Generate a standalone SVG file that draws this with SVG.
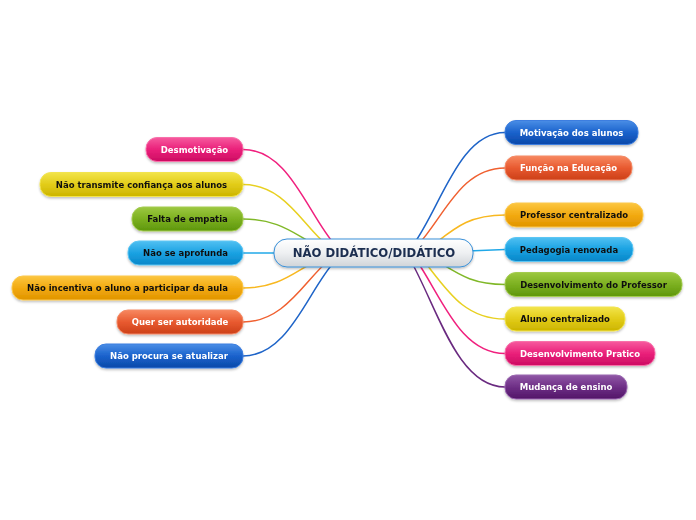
<svg xmlns="http://www.w3.org/2000/svg" width="696" height="520" viewBox="0 0 696 520">
<defs>
<style>
.t{font-family:"DejaVu Sans","Verdana",sans-serif;font-weight:bold;font-size:8.5px;text-anchor:middle}
.w{fill:#ffffff}
.k{fill:#111111}
.c path{fill:none;stroke-width:1.5}
.n rect{stroke-width:1}
</style>
<filter id="sh" x="-10%" y="-30%" width="120%" height="170%"><feDropShadow dx="0" dy="1.5" stdDeviation="1" flood-color="#000" flood-opacity="0.25"/></filter>
<linearGradient id="gBlue" x1="0" y1="0" x2="0" y2="1"><stop offset="0" stop-color="#4a8ee6"/><stop offset="0.5" stop-color="#1a62cc"/><stop offset="1" stop-color="#0a48a8"/></linearGradient>
<linearGradient id="gRed" x1="0" y1="0" x2="0" y2="1"><stop offset="0" stop-color="#f78860"/><stop offset="0.5" stop-color="#e85a30"/><stop offset="1" stop-color="#cc4018"/></linearGradient>
<linearGradient id="gOra" x1="0" y1="0" x2="0" y2="1"><stop offset="0" stop-color="#fcc640"/><stop offset="0.5" stop-color="#f2aa10"/><stop offset="1" stop-color="#e09400"/></linearGradient>
<linearGradient id="gCya" x1="0" y1="0" x2="0" y2="1"><stop offset="0" stop-color="#50c0f2"/><stop offset="0.5" stop-color="#1aa2e2"/><stop offset="1" stop-color="#0886c8"/></linearGradient>
<linearGradient id="gGrn" x1="0" y1="0" x2="0" y2="1"><stop offset="0" stop-color="#9cc840"/><stop offset="0.5" stop-color="#7cb020"/><stop offset="1" stop-color="#5e960c"/></linearGradient>
<linearGradient id="gYel" x1="0" y1="0" x2="0" y2="1"><stop offset="0" stop-color="#f2e44a"/><stop offset="0.5" stop-color="#e2cc18"/><stop offset="1" stop-color="#ccb400"/></linearGradient>
<linearGradient id="gPnk" x1="0" y1="0" x2="0" y2="1"><stop offset="0" stop-color="#f65a9e"/><stop offset="0.5" stop-color="#ea207a"/><stop offset="1" stop-color="#cc0c62"/></linearGradient>
<linearGradient id="gPur" x1="0" y1="0" x2="0" y2="1"><stop offset="0" stop-color="#9058a6"/><stop offset="0.5" stop-color="#6e2e86"/><stop offset="1" stop-color="#521668"/></linearGradient>
<linearGradient id="gCen" x1="0" y1="0" x2="0" y2="1"><stop offset="0" stop-color="#ffffff"/><stop offset="0.5" stop-color="#eef0f2"/><stop offset="1" stop-color="#d0d4d8"/></linearGradient>
</defs>
<rect width="696" height="520" fill="#ffffff"/>

<g id="connectors" class="c">
<path d="M243,149.5 C289,149.5 307,213 335,245" stroke="#f0207e"/>
<path d="M243,184.5 C285,184.5 303,226 327,245" stroke="#e8d020"/>
<path d="M243,219 C279,219 294,234 316,245" stroke="#80b828"/>
<path d="M243,253 L280,253" stroke="#20a8e8"/>
<path d="M243,288 C279,288 294,272 316,261" stroke="#f8b820"/>
<path d="M243,322 C285,322 305,280 328,261" stroke="#f06030"/>
<path d="M243,356 C289,356 308,290 335,261" stroke="#1e64c8"/>
<path d="M505,132.5 C459,132.5 441,207 413,245" stroke="#1e64c8"/>
<path d="M505,168 C461,168 445,215 418,245" stroke="#f06030"/>
<path d="M505,215 C469,215 455,228 433,245" stroke="#f8b820"/>
<path d="M505,249.5 L468,251" stroke="#20a8e8"/>
<path d="M505,284.5 C471,284.5 457,273 437,261" stroke="#80b828"/>
<path d="M505,319 C464,319 447,290 424,261" stroke="#e8d020"/>
<path d="M505,353.5 C461,353.5 443,300 417,261" stroke="#f0207e"/>
<path d="M505,387 C458,387 438,310 411,261" stroke="#6a2a80"/>
</g>

<g id="center" class="n" filter="url(#sh)">
<rect x="274" y="239" width="199" height="28" rx="13" fill="url(#gCen)" stroke="#3a90d8" stroke-width="1.3"/>
<text x="374" y="257.3" style="font-family:'DejaVu Sans',sans-serif;font-weight:bold;font-size:11.7px;text-anchor:middle" fill="#1a2d50">NÃO DIDÁTICO/DIDÁTICO</text>
</g>

<g id="n-motivacao" class="n" filter="url(#sh)"><rect x="505" y="120.5" width="133" height="24" rx="11" fill="url(#gBlue)" stroke="#3c7ee0"/><text class="t w" x="571.5" y="135.5">Motivação dos alunos</text></g>
<g id="n-funcao" class="n" filter="url(#sh)"><rect x="505" y="156" width="127" height="24" rx="11" fill="url(#gRed)" stroke="#f48a66"/><text class="t w" x="568.5" y="171">Função na Educação</text></g>
<g id="n-professor" class="n" filter="url(#sh)"><rect x="505" y="203" width="138" height="24" rx="11" fill="url(#gOra)" stroke="#fcc84a"/><text class="t k" x="574" y="218">Professor centralizado</text></g>
<g id="n-pedagogia" class="n" filter="url(#sh)"><rect x="505" y="237.5" width="128" height="24" rx="11" fill="url(#gCya)" stroke="#5cc6f4"/><text class="t k" x="569" y="252.5">Pedagogia renovada</text></g>
<g id="n-desprof" class="n" filter="url(#sh)"><rect x="505" y="272.5" width="177" height="24" rx="11" fill="url(#gGrn)" stroke="#a4cc50"/><text class="t k" x="593.5" y="287.5">Desenvolvimento do Professor</text></g>
<g id="n-aluno" class="n" filter="url(#sh)"><rect x="505" y="307" width="120" height="24" rx="11" fill="url(#gYel)" stroke="#f2e450"/><text class="t k" x="565" y="322">Aluno centralizado</text></g>
<g id="n-despratico" class="n" filter="url(#sh)"><rect x="505" y="341.5" width="150" height="24" rx="11" fill="url(#gPnk)" stroke="#f870aa"/><text class="t w" x="580" y="356.5">Desenvolvimento Pratico</text></g>
<g id="n-mudanca" class="n" filter="url(#sh)"><rect x="505" y="375" width="122" height="24" rx="11" fill="url(#gPur)" stroke="#9a66b0"/><text class="t w" x="566" y="390">Mudança de ensino</text></g>

<g id="n-desmotivacao" class="n" filter="url(#sh)"><rect x="146" y="137.5" width="97" height="24" rx="11" fill="url(#gPnk)" stroke="#f870aa"/><text class="t w" x="194.5" y="152.5">Desmotivação</text></g>
<g id="n-confianca" class="n" filter="url(#sh)"><rect x="40" y="172.5" width="203" height="24" rx="11" fill="url(#gYel)" stroke="#f2e450"/><text class="t k" x="141.5" y="187.5">Não transmite confiança aos alunos</text></g>
<g id="n-empatia" class="n" filter="url(#sh)"><rect x="132" y="207" width="111" height="24" rx="11" fill="url(#gGrn)" stroke="#a4cc50"/><text class="t k" x="187.5" y="222">Falta de empatia</text></g>
<g id="n-aprofunda" class="n" filter="url(#sh)"><rect x="128" y="241" width="115" height="24" rx="11" fill="url(#gCya)" stroke="#5cc6f4"/><text class="t k" x="185.5" y="256">Não se aprofunda</text></g>
<g id="n-incentiva" class="n" filter="url(#sh)"><rect x="12" y="276" width="231" height="24" rx="11" fill="url(#gOra)" stroke="#fcc84a"/><text class="t k" x="127.5" y="291">Não incentiva o aluno a participar da aula</text></g>
<g id="n-autoridade" class="n" filter="url(#sh)"><rect x="117" y="310" width="126" height="24" rx="11" fill="url(#gRed)" stroke="#f48a66"/><text class="t w" x="180" y="325">Quer ser autoridade</text></g>
<g id="n-atualizar" class="n" filter="url(#sh)"><rect x="95" y="344" width="148" height="24" rx="11" fill="url(#gBlue)" stroke="#3c7ee0"/><text class="t w" x="169" y="359">Não procura se atualizar</text></g>
</svg>
